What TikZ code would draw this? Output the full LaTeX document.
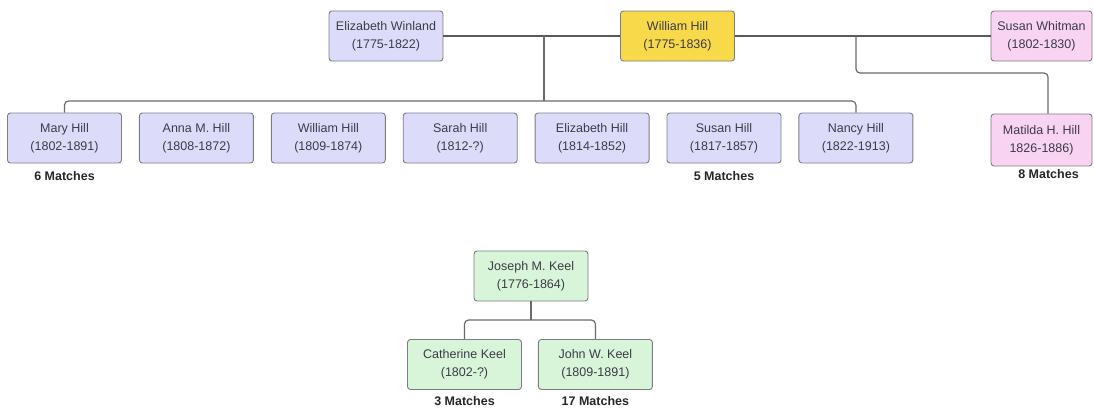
\documentclass[tikz,border=0pt]{standalone}
\usepackage{fontspec}
\setmainfont{Liberation Sans}
\usetikzlibrary{positioning}
\definecolor{lila}{HTML}{DCDCFA}
\definecolor{amarillo}{HTML}{F8D94A}
\definecolor{rosa}{HTML}{F8D3F2}
\definecolor{verde}{HTML}{D8F4D9}
\definecolor{borde}{HTML}{7C7C86}
\definecolor{texto}{HTML}{3C3C48}
\definecolor{linea}{HTML}{6A6A6A}

\begin{document}
\begin{tikzpicture}[x=1pt,y=-1pt,
  node distance=17pt,
  persona/.style={draw=borde,line width=0.9pt,rounded corners=3pt,fill=lila,text=texto,
                  align=center,minimum width=114pt,minimum height=50pt,inner sep=2pt,
                  font=\fontsize{12.5}{18}\selectfont},
  pareja/.style={draw=linea!85!black,line width=1.4pt},
  rama/.style={draw=linea,line width=1.2pt,rounded corners=4pt},
  coincide/.style={font=\bfseries\fontsize{12.5}{15}\selectfont,text=black!85,inner sep=0pt}]
  \useasboundingbox (0,0) rectangle (1094,408);

  % padres
  \node[persona] (ew) at (386,36) {Elizabeth Winland\\(1775-1822)};
  \node[persona,fill=amarillo] (wh) at (677.5,36) {William Hill\\(1775-1836)};
  \node[persona,fill=rosa,minimum width=101pt] (sw) at (1041.5,36) {Susan Whitman\\(1802-1830)};

  % hijos
  \node[persona] (mary) at (64.5,138) {Mary Hill\\(1802-1891)};
  \node[persona,right=of mary] (anna) {Anna M. Hill\\(1808-1872)};
  \node[persona,right=of anna] (william) {William Hill\\(1809-1874)};
  \node[persona,right=of william] (sarah) {Sarah Hill\\(1812-?)};
  \node[persona,right=of sarah] (elizabeth) {Elizabeth Hill\\(1814-1852)};
  \node[persona,right=of elizabeth] (susan) {Susan Hill\\(1817-1857)};
  \node[persona,right=of susan] (nancy) {Nancy Hill\\(1822-1913)};
  \node[persona,fill=rosa,minimum width=101pt,minimum height=52pt] (matilda) at (1041.5,140) {Matilda H. Hill\\1826-1886)};

  % Keel
  \node[persona,fill=verde] (joseph) at (531,276) {Joseph M. Keel\\(1776-1864)};
  \node[persona,fill=verde] (catherine) at (464.5,364.5) {Catherine Keel\\(1802-?)};
  \node[persona,fill=verde,right=16pt of catherine] (john) {John W. Keel\\(1809-1891)};

  % coincidencias
  \node[coincide,below=8pt of mary] (m1) {6 Matches};
  \node[coincide,below=8pt of susan] (m2) {5 Matches};
  \node[coincide,below=3pt of matilda,xshift=7pt] (m3) {8 Matches};
  \node[coincide,below=6pt of catherine] (m4) {3 Matches};
  \node[coincide,below=6pt of john] (m5) {17 Matches};

  % lineas
  \coordinate (ew-wh) at (544,36);
  \coordinate (bus) at (544,101);
  \coordinate (wh-sw) at (856,36);
  \coordinate (codo) at (1048,73);
  \coordinate (keelbus) at (531,320);
  \draw[pareja] (ew) -- (wh);
  \draw[pareja] (wh) -- (sw);
  \draw[rama] (ew-wh) -- (bus);
  \draw[rama] (mary.north) |- (bus) -| (nancy.north);
  \draw[rama] (wh-sw) |- (codo) -- (codo |- matilda.north);
  \draw[rama] (joseph) -- (keelbus);
  \draw[rama] (catherine.north) |- (keelbus) -| (john.north);
\end{tikzpicture}
\end{document}
